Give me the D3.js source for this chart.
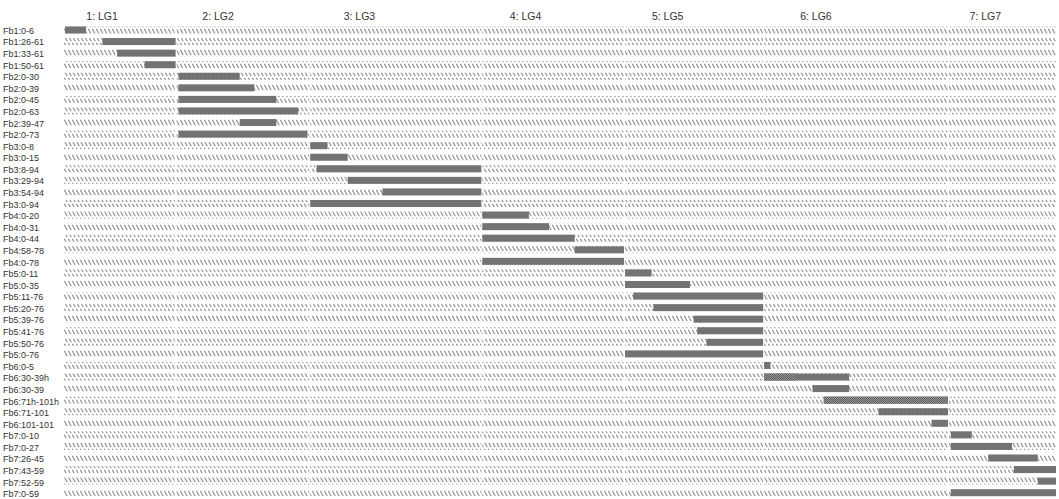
<!DOCTYPE html>
<html><head><meta charset="utf-8">
<script src="https://cdn.jsdelivr.net/npm/d3@7"></script>
<style>body{margin:0;background:#fff}svg{display:block}</style>
</head><body><svg id="c" width="1059" height="499"></svg>
<script>
const groupNames = ["1: LG1","2: LG2","3: LG3","4: LG4","5: LG5","6: LG6","7: LG7"];
const groupLengths = [61,73,94,78,76,101,59];
const rowLabels = ["Fb1:0-6","Fb1:26-61","Fb1:33-61","Fb1:50-61",
 "Fb2:0-30","Fb2:0-39","Fb2:0-45","Fb2:0-63","Fb2:39-47","Fb2:0-73",
 "Fb3:0-8","Fb3:0-15","Fb3:8-94","Fb3:29-94","Fb3:54-94","Fb3:0-94",
 "Fb4:0-20","Fb4:0-31","Fb4:0-44","Fb4:58-78","Fb4:0-78",
 "Fb5:0-11","Fb5:0-35","Fb5:11-76","Fb5:20-76","Fb5:39-76","Fb5:41-76","Fb5:50-76","Fb5:0-76",
 "Fb6:0-5","Fb6:30-39h","Fb6:30-39","Fb6:71h-101h","Fb6:71-101","Fb6:101-101",
 "Fb7:0-10","Fb7:0-27","Fb7:26-45","Fb7:43-59","Fb7:52-59","Fb7:0-59"];
const rowGroup = [0,0,0,0, 1,1,1,1,1,1, 2,2,2,2,2,2, 3,3,3,3,3, 4,4,4,4,4,4,4,4, 5,5,5,5,5,5, 6,6,6,6,6,6];
const barStart = [0,21,29,44, 1,1,1,1,35,1, 0,0,4,21,40,0, 0,0,0,51,0, 0,0,5,16,38,40,45,0, 0,0,27,33,63,92, 1,1,22,36,49,1];
const barEnd   = [12,61,61,61, 35,43,55,67,55,72, 10,21,94,94,94,94, 26,37,51,78,78, 15,36,76,76,76,76,76,76, 4,47,47,101,101,101, 13,35,49,59,59,59];
// portion of the bar drawn with the checkered fill, from bar start up to this position
const checkedEnd = [null,null,null,null, null,null,null,null,null,null, null,null,null,null,null,null,
 null,null,null,null,null, null,null,null,null,null,null,null,null,
 null,18,null,101,null,null, null,null,null,null,null,null];

const svg = d3.select("#c");
const offsets = groupLengths.map((d,i)=>d3.sum(groupLengths.slice(0,i)));
const total = d3.sum(groupLengths);
const x = d3.scaleLinear().domain([0,total]).range([64,1056]);
const yBar = d3.scaleLinear().domain([0,rowLabels.length-1]).range([30,492.7]);
const yLab = d3.scaleLinear().domain([0,rowLabels.length-1]).range([30.7,494]);

const defs = svg.append("defs");
const hp = defs.append("pattern").attr("id","hatch").attr("patternUnits","userSpaceOnUse")
  .attr("width",4).attr("height",7);
hp.append("line").attr("x1",0.3).attr("y1",0.8).attr("x2",3.2).attr("y2",6.2)
  .attr("stroke","#959595").attr("stroke-width",1.3);
const cp = defs.append("pattern").attr("id","check").attr("patternUnits","userSpaceOnUse")
  .attr("width",2).attr("height",2);
cp.append("rect").attr("width",2).attr("height",2).attr("fill","#9a9a9a");
cp.append("rect").attr("width",1).attr("height",1).attr("fill","#5a5a5a");
cp.append("rect").attr("x",1).attr("y",1).attr("width",1).attr("height",1).attr("fill","#5a5a5a");

// background hatch bands
const cells = [];
rowLabels.forEach((r,i)=>groupLengths.forEach((L,g)=>cells.push({i,g})));
svg.append("g").selectAll("rect").data(cells).join("rect")
  .attr("x",d=>x(offsets[d.g])+ (d.g>0?1:0))
  .attr("width",d=>x(offsets[d.g]+groupLengths[d.g]) - x(offsets[d.g]) - 1)
  .attr("y",d=>yBar(d.i)-3.5).attr("height",7)
  .attr("fill","url(#hatch)");

// group titles
svg.append("g").selectAll("text").data(groupNames).join("text")
  .attr("x",(d,g)=>x(offsets[g]) + 0.2*(x(offsets[g]+groupLengths[g])-x(offsets[g])))
  .attr("y",20).text(d=>d)
  .attr("font-family","Liberation Sans, Arial, sans-serif").attr("font-size",10.5).attr("fill","#333");

// row labels
svg.append("g").selectAll("text").data(rowLabels).join("text")
  .attr("x",3).attr("y",(d,i)=>yLab(i)+3.2).text(d=>d)
  .attr("font-family","Liberation Sans, Arial, sans-serif").attr("font-size",9).attr("fill","#333");

// bars
const bars = rowLabels.map((r,i)=>({i,g:rowGroup[i],s:barStart[i],e:barEnd[i],c:checkedEnd[i]}));
const bg = svg.append("g");
bg.selectAll("rect.b").data(bars).join("rect").attr("class","b")
  .attr("x",d=>x(offsets[d.g]+d.s)+ (d.s<=1?1:0))
  .attr("width",d=>x(offsets[d.g]+d.e)-x(offsets[d.g]+d.s) - (d.s<=1?1:0))
  .attr("y",d=>yBar(d.i)-3.5).attr("height",7)
  .attr("fill","#737373");
bg.selectAll("rect.c").data(bars.filter(d=>d.c!==null)).join("rect").attr("class","c")
  .attr("x",d=>x(offsets[d.g]+d.s)+1)
  .attr("width",d=>x(offsets[d.g]+d.c)-x(offsets[d.g]+d.s)-1)
  .attr("y",d=>yBar(d.i)-3.5).attr("height",7)
  .attr("fill","url(#check)");
</script></body></html>
